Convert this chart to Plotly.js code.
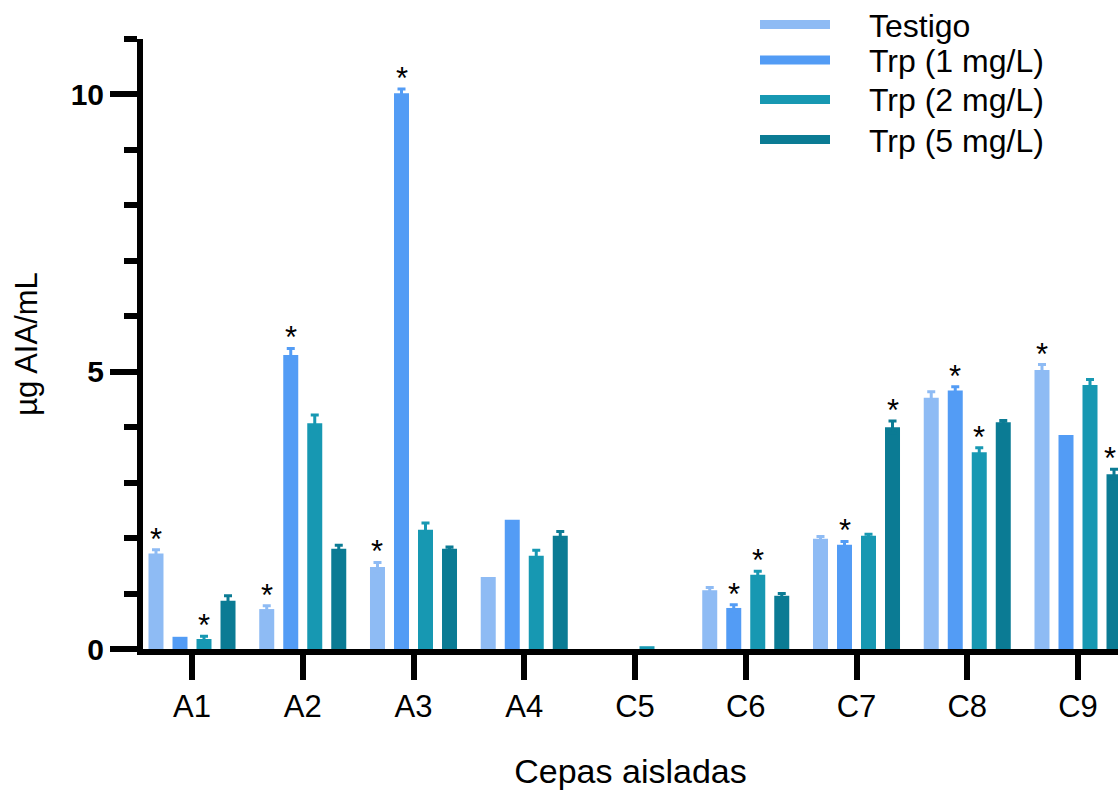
<!DOCTYPE html>
<html>
<head>
<meta charset="utf-8">
<script src="https://cdn.plot.ly/plotly-3.0.1.min.js"></script>
<style>html,body{margin:0;padding:0;background:#fff;}#chart{width:1118px;height:790px;}</style>
</head>
<body>
<div id="chart"></div>
<script>
const categories = ['A1','A2','A3','A4','C5','C6','C7','C8','C9'];
const seriesNames = ['Testigo','Trp (1 mg/L)','Trp (2 mg/L)','Trp (5 mg/L)'];
const testigo    = [1.72, 0.72, 1.48, 1.30, 0.00, 1.06, 1.99, 4.53, 5.03];
const testigoErr = [0.07, 0.06, 0.08, 0.00, 0.00, 0.05, 0.04, 0.11, 0.10];
const trp1       = [0.22, 5.30, 10.02, 2.33, 0.00, 0.74, 1.88, 4.66, 3.86];
const trp1Err    = [0.00, 0.12, 0.08, 0.00, 0.00, 0.06, 0.06, 0.07, 0.00];
const trp2       = [0.18, 4.07, 2.15, 1.68, 0.05, 1.34, 2.04, 3.55, 4.76];
const trp2Err    = [0.05, 0.15, 0.12, 0.10, 0.00, 0.06, 0.03, 0.08, 0.10];
const trp5       = [0.87, 1.81, 1.81, 2.04, 0.00, 0.96, 4.00, 4.09, 3.15];
const trp5Err    = [0.09, 0.06, 0.03, 0.08, 0.00, 0.04, 0.11, 0.03, 0.09];
// significance marks (*)
const testigoSig = [1, 1, 1, 0, 0, 0, 0, 0, 1];
const trp1Sig    = [0, 1, 1, 0, 0, 1, 1, 1, 0];
const trp2Sig    = [1, 0, 0, 0, 0, 1, 0, 1, 0];
const trp5Sig    = [0, 0, 0, 0, 0, 0, 1, 0, 1];
const yMajorTicks = [0, 5, 10];
const yMinorTicks = [1, 2, 3, 4, 6, 7, 8, 9, 11];

const colors = ['#8EBBF4', '#539CF5', '#1798B2', '#0B7B94'];
const values = [testigo, trp1, trp2, trp5];
const errs = [testigoErr, trp1Err, trp2Err, trp5Err];
const sigs = [testigoSig, trp1Sig, trp2Sig, trp5Sig];

const FONT = 'Arial, "Liberation Sans", sans-serif';
const W = 1118, H = 790;
const M = {l: 143, r: 0, t: 39, b: 141};
const bargap = 0.133;
const slot = (1 - bargap) / 4;
const idx = categories.map((c, i) => i);
const x0px = 192, catPx = 110.75;
const xRange = [-(x0px - M.l) / catPx, (W - M.r - x0px) / catPx];

const traces = values.map((v, k) => {
  const e = errs[k].map(d => d > 0 ? d : NaN);
  return {
    type: 'bar',
    name: seriesNames[k],
    x: idx,
    y: v.map(d => d > 0 ? d : null),
    marker: {color: colors[k], line: {width: 0}},
    error_y: {type: 'data', array: e, arrayminus: e, symmetric: false,
              color: colors[k], thickness: 3, width: 4},
    showlegend: false,
    hoverinfo: 'x+y'
  };
});

const annotations = [];
sigs.forEach((s, k) => {
  s.forEach((flag, i) => {
    if (flag) {
      let xv = i + (k - 1.5) * slot;
      const pxPos = x0px + xv * catPx;
      let xanchor = 'center';
      if (pxPos > W - 9) { xv = xRange[1]; xanchor = 'right'; }
      annotations.push({
        x: xv, y: values[k][i] + errs[k][i],
        xref: 'x', yref: 'y', text: '*', showarrow: false,
        xanchor: xanchor, yanchor: 'bottom', yshift: -9,
        font: {family: FONT, size: 31, color: '#000'}
      });
    }
  });
});

// legend (line swatches + labels) in paper coordinates
const pw = W - M.l - M.r, ph = H - M.t - M.b;
const px2x = p => (p - M.l) / pw;
const py2y = p => (H - M.b - p) / ph;
const legendRows = [24.5, 60, 99.5, 139.5];
const shapes = [];
seriesNames.forEach((n, k) => {
  shapes.push({type: 'line', xref: 'paper', yref: 'paper',
    x0: px2x(760), x1: px2x(830), y0: py2y(legendRows[k]), y1: py2y(legendRows[k]),
    line: {color: colors[k], width: 9}});
  annotations.push({xref: 'paper', yref: 'paper', x: px2x(867), y: py2y(legendRows[k] + 1),
    xanchor: 'left', yanchor: 'middle', text: n, showarrow: false,
    font: {family: FONT, size: 32, color: '#000'}});
});

const layout = {
  width: W, height: H,
  margin: M,
  paper_bgcolor: '#fff', plot_bgcolor: '#fff',
  barmode: 'group', bargap: bargap, bargroupgap: 0.375,
  showlegend: false,
  font: {family: FONT, color: '#000'},
  xaxis: {
    range: xRange,
    tickmode: 'array', tickvals: idx, ticktext: categories,
    ticks: 'outside', ticklen: 25, tickwidth: 6, tickcolor: '#000',
    showline: true, linewidth: 6, linecolor: '#000',
    showgrid: false, zeroline: false,
    tickfont: {family: FONT, size: 31, color: '#000'},
    title: {text: 'Cepas aisladas', font: {family: FONT, size: 34, color: '#000'}, standoff: 42}
  },
  yaxis: {
    range: [0, 11.0],
    tickmode: 'array', tickvals: yMajorTicks,
    ticks: 'outside', ticklen: 27, tickwidth: 6, tickcolor: '#000',
    minor: {tickmode: 'array', tickvals: yMinorTicks, ticks: 'outside', ticklen: 13, tickwidth: 6, tickcolor: '#000', showgrid: false},
    showline: true, linewidth: 6, linecolor: '#000',
    showgrid: false, zeroline: false,
    tickfont: {family: FONT, size: 30, color: '#000', weight: 'bold'},
    title: {text: 'µg AIA/mL', font: {family: FONT, size: 31, color: '#000'}, standoff: 26}
  },
  annotations: annotations,
  shapes: shapes
};

Plotly.newPlot('chart', traces, layout, {displayModeBar: false, staticPlot: true});
</script>
</body>
</html>
